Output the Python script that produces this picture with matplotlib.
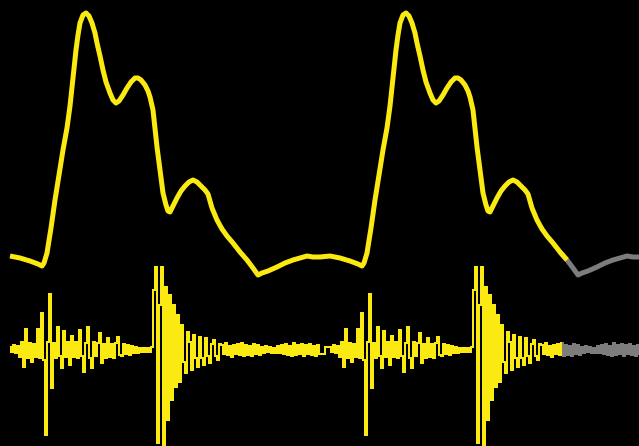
import numpy as np
import matplotlib
matplotlib.use("Agg")
import matplotlib.pyplot as plt

# ---- one cardiac cycle (period = 320 samples) ----
# pulse pressure wave: sample times and amplitude above the diastolic foot
pulse_t = [10, 20, 30, 38, 42, 44, 47, 51, 55, 59, 63, 67, 70, 73, 76, 78, 80, 83,
           86, 89, 92, 95, 97, 100, 103, 106, 110, 113, 116, 119, 123, 127, 131,
           135, 138, 141, 145, 148, 150, 153, 157, 160, 163, 166, 168, 170, 173,
           177, 181, 185, 189, 193, 197, 201, 205, 208, 212, 217, 222, 227, 233,
           240, 247, 253, 258, 262, 268, 277, 285, 293, 300, 307, 313, 320]
pulse_amp = [10, 8, 5, 2, 0, 3, 13, 38, 66, 91, 116, 138, 160, 188, 216, 231, 243,
             251, 253, 250, 243, 233, 223, 210, 196, 184, 173, 166, 163, 165, 171,
             178, 184, 188, 188, 186, 181, 175, 169, 156, 119, 96, 73, 61, 55, 54,
             60, 68, 75, 80, 84, 86, 84, 80, 76, 72, 58, 46, 37, 30, 23, 14, 6, -2,
             -9, -7, -5, -1, 3, 6, 8, 10, 9, 9]

# heart sound (phonocardiogram) deflection, sampled every 2 samples from t=10
pcg_start, pcg_step = 10, 2
pcg = [3, -2, 5, -3, 4,                       # t = 10..18
       -7, 8, -17, 21, -8, 7,                 # 20..30
       -12, 6, -7, 21, -8,                    # 32..40
       37, -10, -85, 8, 56, -38,              # 42..52  first sound
       7, -8, 23, -6, -18, 19, -7,            # 54..66
       8, -15, 14, -7, 8, -8,                 # 68..78
       20, -6, -22, 7, 23, -8,                # 80..90
       -18, 8, -6, 7, 17,                     # 92..100
       -13, 6, -8, 12, -7,                    # 102..110
       6, -8, 7, 13, -5,                      # 112..120
       -6, 6, -4, 5, -5,                      # 122..130
       4, -3, 3, -3, 2,                       # 132..140
       -2, 2, -2, 2, -2, 3,                   # 142..152
       60, 83, -93, 45, 83, -96, 63, -70,     # 154..168 second sound
       55, -50, 45, -37, 35, -32, 25, -12,    # 170..184
       -23, 18, 8, -20, 15, -8, -17, 13,      # 186..200
       -8, -15, 12, -6, -13, 6, 10, -6,       # 202..216
       -10, 6,                                # 218..220
       5, -4, 7, -5, 4, -7, 5, -4, 6, -5,     # 222..240
       7, -6, 5, -5, 4, -6, 6, -4, 5, -5,     # 242..260
       3, -3, 4, -2, 3, -3, 2, -3, 4, -3,     # 262..280
       5, -4, 6, -5, 4, -6, 7, -5, 5, -4,     # 282..300
       6, -6, 5, -4, 6, -5, 4, -6, 5, -4]     # 302..320

period = 320
n_cycles = 2
sweep_pos = 562          # current write position of the monitor sweep
pcg_offset = -84         # vertical placement of the sound trace below the pulse foot

yellow = "#fbea12"
grey = "#7d7d7d"

pulse_t = np.asarray(pulse_t, float)
pulse_amp = np.asarray(pulse_amp, float)
pcg = np.asarray(pcg, float)
pcg_t = pcg_start + pcg_step * np.arange(len(pcg))

pt = np.concatenate([pulse_t + k * period for k in range(n_cycles)])
pa = np.concatenate([pulse_amp] * n_cycles)
st = np.concatenate([pcg_t + k * period for k in range(n_cycles)])
sa = np.concatenate([pcg] * n_cycles) + pcg_offset

fig = plt.figure(figsize=(6.39, 4.46), dpi=100, facecolor="black")
ax = fig.add_axes([0, 0, 1, 1])
ax.set_facecolor("black")


def draw(t, v, lw, **kw):
    new = t <= sweep_pos
    old = t >= sweep_pos
    # include one point across the boundary so both parts join
    i = np.searchsorted(t, sweep_pos)
    new[min(i, len(t) - 1)] = True
    old[max(i - 1, 0)] = True
    ax.plot(t[old], v[old], color=grey, lw=lw, solid_joinstyle="round",
            solid_capstyle="butt", **kw)
    ax.plot(t[new], v[new], color=yellow, lw=lw, solid_joinstyle="round",
            solid_capstyle="butt", **kw)


draw(pt, pa, 3.6)
draw(st, sa, 1.44, drawstyle="steps-mid", antialiased=False)

ax.set_xlim(0, 639)
ax.set_ylim(-180, 266)
ax.axis("off")
fig.savefig("out.png", dpi=100, facecolor="black")
